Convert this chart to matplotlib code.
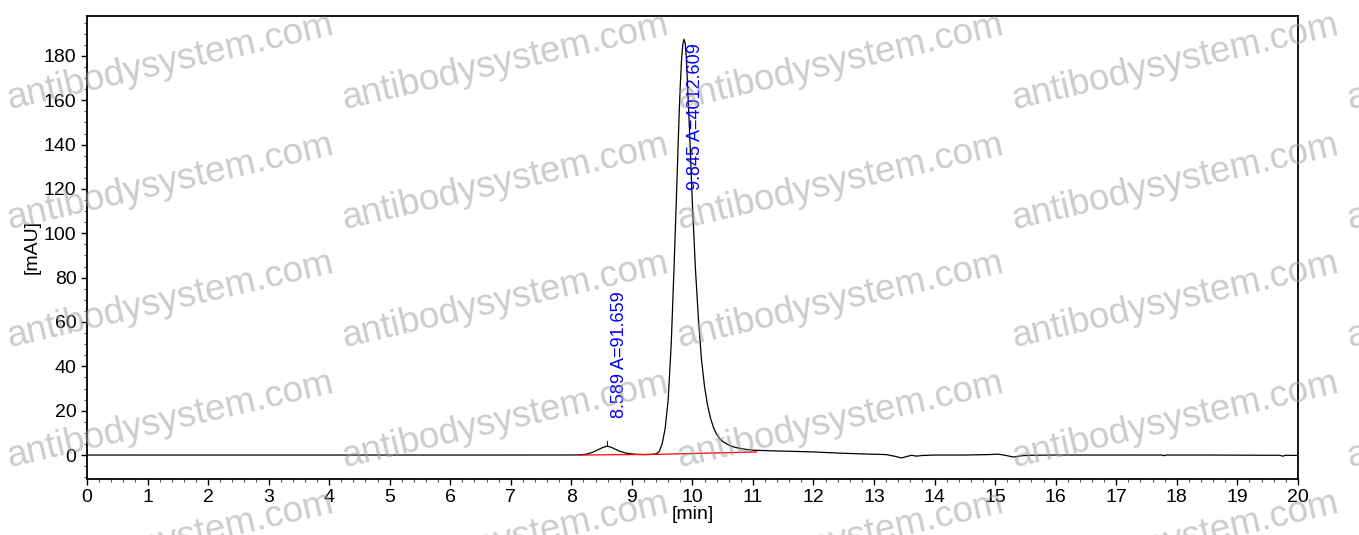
import matplotlib
matplotlib.use('Agg')
import matplotlib.pyplot as plt
from matplotlib.ticker import MultipleLocator

plt.rcParams['font.family'] = ['Liberation Sans', 'DejaVu Sans']

# chromatogram trace (min, mAU)
time = [0, 2, 4, 6, 7, 7.8, 8.0, 8.14, 8.25, 8.35, 8.45, 8.52, 8.589, 8.65, 8.72,
        8.80, 8.90, 9.00, 9.08, 9.2, 9.3, 9.40, 9.45, 9.50, 9.55, 9.60, 9.65, 9.70,
        9.75, 9.78, 9.80, 9.82, 9.84, 9.86, 9.88, 9.90, 9.95, 10.00, 10.05, 10.10,
        10.15, 10.20, 10.25, 10.30, 10.35, 10.40, 10.45, 10.50, 10.60, 10.70, 10.80,
        10.90, 11.00, 11.3, 11.6, 12.0, 12.4, 12.8, 13.2, 13.35, 13.45, 13.55, 13.62,
        13.7, 13.8, 14.0, 14.5, 14.9, 15.05, 15.2, 15.3, 15.45, 15.6, 16, 17, 17.75,
        17.78, 17.82, 18.5, 19.5, 19.7, 19.75, 19.8, 20]
signal = [0, 0, 0, 0, 0, 0.02, 0.03, 0.05, 0.4, 1.2, 2.5, 3.4, 4.0, 3.6, 2.7,
          1.7, 0.9, 0.5, 0.3, 0.2, 0.25, 0.5, 1.5, 5, 12, 25, 50, 87,
          128, 153, 167, 178, 185, 187.5, 186, 179, 148, 113, 84, 61,
          43, 31, 22.5, 16.5, 12.3, 9.4, 7.4, 6.1, 4.5, 3.5, 2.9,
          2.5, 2.2, 1.9, 1.7, 1.4, 0.9, 0.5, 0.2, -0.6, -1.3, -0.6, -0.1,
          -0.5, -0.2, 0, 0, 0.2, 0.4, -0.3, -0.9, -0.3, -0.1, 0, 0, 0,
          -0.3, 0, 0, -0.1, -0.1, -0.5, -0.1, -0.2]

# integration baselines
base_t = [8.14, 9.42, 11.06]
base_y = [0.0, 0.3, 1.4]

peak_rt = [8.589, 9.845]
peak_labels = ['8.589 A=91.659', '9.845 A=4012.609']
label_y = [16.5, 119.5]

fig = plt.figure(figsize=(13.59, 5.35), dpi=100)
ax = fig.add_axes([0.064, 0.1047, 0.891, 0.8654])

ax.plot(time, signal, color='black', lw=0.9)
ax.plot(base_t, base_y, color='red', lw=0.9)

# small apex marker on the minor peak
ax.plot([peak_rt[0], peak_rt[0]], [4.0, 6.5], color='blue', lw=0.8)

for rt, lab, ly in zip(peak_rt, peak_labels, label_y):
    ax.text(rt + 0.06, ly, lab, rotation=90, color='blue', fontsize=13,
            ha='left', va='bottom')

ax.set_xlim(0, 20)
ax.set_ylim(-10.8, 198)
ax.xaxis.set_major_locator(MultipleLocator(1))
ax.xaxis.set_minor_locator(MultipleLocator(0.2))
ax.yaxis.set_major_locator(MultipleLocator(20))
ax.yaxis.set_minor_locator(MultipleLocator(5))
ax.set_yticks(range(0, 181, 20))
ax.tick_params(which='major', direction='out', length=4, width=1, labelsize=14)
ax.tick_params(which='minor', direction='out', length=2, width=0.8, color='#555555')
for s in ax.spines.values():
    s.set_linewidth(1.3)
ax.set_xlabel('[min]', fontsize=14, labelpad=0)
ax.set_ylabel('[mAU]', fontsize=14, labelpad=2)

# watermark grid
wm_x = [170, 505, 840, 1175, 1510]
wm_y = [62, 182, 300, 420, 540]
for cx in wm_x:
    for cy in wm_y:
        fig.text(cx / 1359, 1 - cy / 535, 'antibodysystem.com', fontsize=26.5,
                 rotation=13, color='#999999', alpha=0.5, ha='center',
                 va='center', rotation_mode='anchor', zorder=10)

fig.savefig('out.png', dpi=100)
